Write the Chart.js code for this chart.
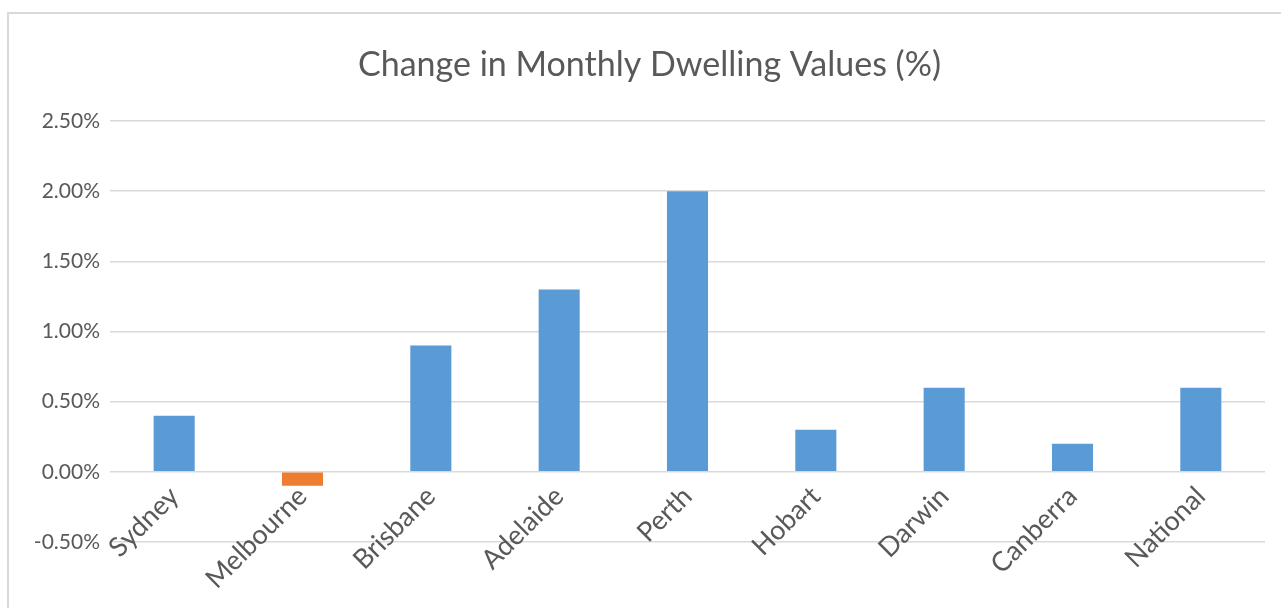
<!DOCTYPE html>
<html>
<head>
<meta charset="utf-8">
<script src="https://cdn.jsdelivr.net/npm/chart.js@4.4.1/dist/chart.umd.min.js"></script>
<style>
  html, body { margin: 0; padding: 0; background: #fff; overflow: hidden; }
  #wrap { position: relative; width: 1281px; height: 608px; }
  #frame { position: absolute; left: 7px; top: 12px; width: 1300px; height: 700px; border: 2px solid #d9d9d9; box-sizing: border-box; pointer-events: none; }
  canvas { position: absolute; left: 0; top: 0; }
</style>
</head>
<body>
<div id="wrap">
  <canvas id="c" width="1281" height="608"></canvas>
  <div id="frame"></div>
</div>
<script>
const categories = ["Sydney", "Melbourne", "Brisbane", "Adelaide", "Perth", "Hobart", "Darwin", "Canberra", "National"];
const changePct = [0.4, -0.1, 0.9, 1.3, 2.0, 0.3, 0.6, 0.2, 0.6];
const yTickValues = [-0.5, 0, 0.5, 1.0, 1.5, 2.0, 2.5];
const titleText = "Change in Monthly Dwelling Values (%)";

const BLUE = "#5B9BD5";
const ORANGE = "#ED7D31";
const TEXT = "#595959";
const GRID = "#d9d9d9";
const FONT = "Lato, 'Open Sans', sans-serif";

const zeroLabels = {
  id: "zeroLabels",
  afterDatasetsDraw(chart) {
    const { ctx, scales } = chart;
    const xs = scales.x, ys = scales.y;
    const y0 = ys.getPixelForValue(0);
    ctx.save();
    ctx.font = "27px " + FONT;
    ctx.fillStyle = TEXT;
    ctx.textAlign = "right";
    ctx.textBaseline = "middle";
    categories.forEach((lab, i) => {
      const x = xs.getPixelForValue(i);
      ctx.save();
      ctx.translate(x + 0, y0 + 20);
      ctx.rotate(-Math.PI / 4);
      ctx.fillText(lab, 0, 0);
      ctx.restore();
    });
    ctx.restore();
  }
};

new Chart(document.getElementById("c"), {
  type: "bar",
  data: {
    labels: categories,
    datasets: [{
      data: changePct,
      backgroundColor: changePct.map(v => v < 0 ? ORANGE : BLUE),
      borderWidth: 0,
      categoryPercentage: 1.0,
      barPercentage: 0.32
    }]
  },
  options: {
    responsive: false,
    animation: false,
    layout: { padding: { left: 34, right: 16, top: 0, bottom: 66 } },
    plugins: {
      legend: { display: false },
      tooltip: { enabled: false },
      title: {
        display: true,
        text: titleText,
        color: TEXT,
        font: { family: FONT, size: 34, weight: "normal" },
        padding: { top: 45, bottom: 35.2 }
      }
    },
    scales: {
      x: {
        display: false,
        grid: { display: false }
      },
      y: {
        min: -0.5,
        max: 2.5,
        afterBuildTicks(scale) { scale.ticks = yTickValues.map(v => ({ value: v })); },
        afterFit(scale) { scale.width = 76; },
        border: { display: false },
        grid: {
          color: GRID,
          lineWidth: 1.5,
          drawTicks: false
        },
        ticks: {
          color: TEXT,
          font: { family: FONT, size: 21 },
          padding: 10,
          callback: v => v.toFixed(2) + "%"
        }
      }
    }
  },
  plugins: [zeroLabels]
});
</script>
</body>
</html>
